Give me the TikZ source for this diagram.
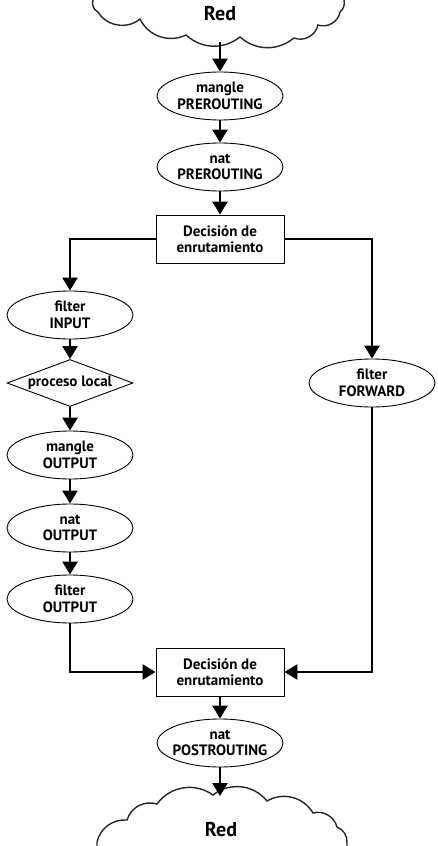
\documentclass[tikz,border=0pt]{standalone}
\usepackage{fontspec}
\setmainfont{PT Sans}
\usetikzlibrary{shapes.geometric, arrows.meta}

\begin{document}
\begin{tikzpicture}[x=1pt, y=-1pt, font=\bfseries\fontsize{15}{16.5}\selectfont,
	tab/.style = {draw, ellipse, line width=0.9pt, align=center, inner xsep=-15pt, inner ysep=0pt, minimum width=126pt, minimum height=48pt},
	ruteo/.style = {draw, rectangle, line width=0.9pt, align=center, minimum width=128pt, minimum height=48pt},
	proc/.style = {draw, diamond, line width=0.9pt, aspect=2.68, inner xsep=-4pt, inner ysep=0pt, minimum width=126pt, minimum height=47pt},
	nube/.style = {draw=black!85, line width=1.4pt, fill=white},
	flecha/.style = {line width=2.5pt, -{Triangle[width=15pt, length=13pt]}}]
		\useasboundingbox (0,0) rectangle (438,846);
		% nubes
		\begin{scope}
			\clip (0,0) rectangle (438,846);
			\draw[nube] (93,-10) -- (93,0) to[bend right=40] (98,12) to[bend right=50] (140,19)
				to[bend right=45] (186,35) to[bend right=40] (240,37) to[bend right=40] (294,38)
				to[bend right=50] (318,25) to[bend right=50] (340,12) to[bend right=30] (344,0) -- (344,-10) -- cycle;
			\draw[nube] (97,856) -- (97,842) to[bend left=40] (127,820) to[bend left=45] (157,804)
				to[bend left=45] (213,795) to[bend left=45] (267,801) to[bend left=45] (313,813)
				to[bend left=45] (337,827) to[bend left=35] (347,843) -- (347,856) -- cycle;
		\end{scope}
		\node[font=\bfseries\fontsize{20}{22}\selectfont] (redin) at (220,14) {Red};
		\node[font=\bfseries\fontsize{20}{22}\selectfont] (redout) at (221,830) {Red};
		\coordinate (redinb) at (220,42);
		\coordinate (redoutt) at (220,796);
		% tablas
		\node[tab] (manglepre) at (220,96) {mangle\\PREROUTING};
		\node[tab] (natpre) at (220,167) {nat\\PREROUTING};
		\node[ruteo] (ruteo1) at (220,239) {Decisión de\\enrutamiento};
		\node[tab] (filterin) at (70,315) {filter\\INPUT};
		\node[proc] (proceso) at (70,383) {proceso local};
		\node[tab] (mangleout) at (70,455) {mangle\\OUTPUT};
		\node[tab] (natout) at (70,528) {nat\\OUTPUT};
		\node[tab] (filterout) at (70,599) {filter\\OUTPUT};
		\node[tab] (filterfwd) at (372,383) {filter\\FORWARD};
		\node[ruteo] (ruteo2) at (220,672) {Decisión de\\enrutamiento};
		\node[tab] (natpost) at (220,743) {nat\\POSTROUTING};
		% flechas
		\draw[flecha] (redinb) -- (manglepre);
		\draw[flecha] (manglepre) -- (natpre);
		\draw[flecha] (natpre) -- (ruteo1);
		\draw[flecha] (ruteo1.west) -| (filterin.north);
		\draw[flecha] (ruteo1.east) -| (filterfwd.north);
		\draw[flecha] (filterin) -- (proceso);
		\draw[flecha] (proceso) -- (mangleout);
		\draw[flecha] (mangleout) -- (natout);
		\draw[flecha] (natout) -- (filterout);
		\draw[flecha] (filterout.south) |- (ruteo2.west);
		\draw[flecha] (filterfwd.south) |- (ruteo2.east);
		\draw[flecha] (ruteo2) -- (natpost);
		\draw[flecha] (natpost) -- (redoutt);
\end{tikzpicture}
\end{document}
